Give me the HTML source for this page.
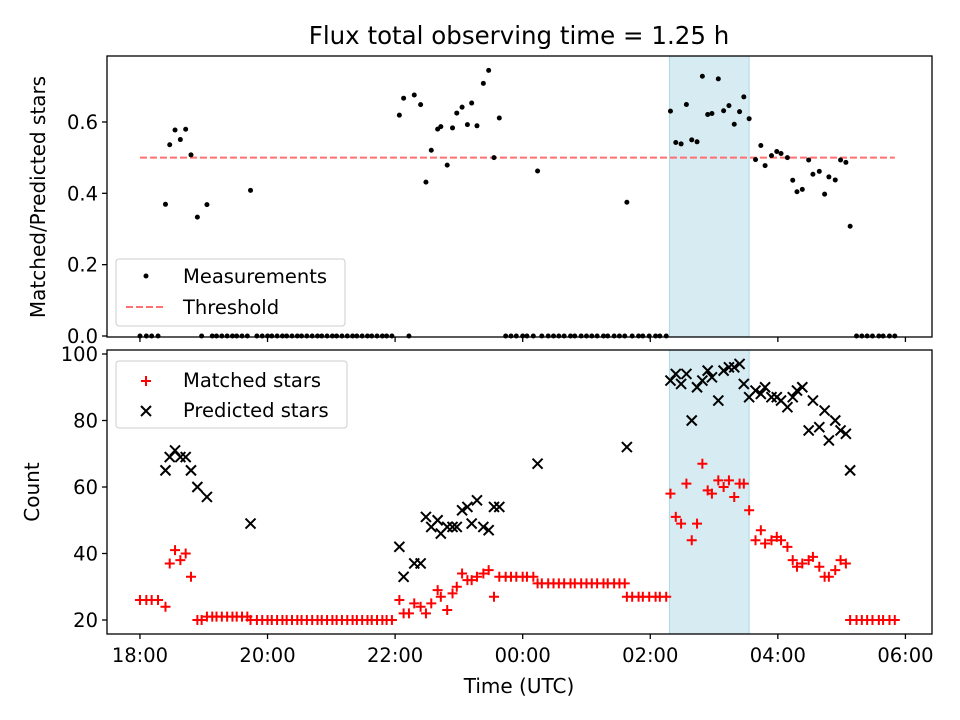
<!DOCTYPE html>
<html><head><meta charset="utf-8"><style>
body{margin:0;background:#fff;}
svg{display:block;font-family:"DejaVu Sans","Liberation Sans",sans-serif;}
</style></head><body>
<svg id="chart" width="960" height="720" viewBox="0 0 960 720" xmlns="http://www.w3.org/2000/svg">
<rect width="960" height="720" fill="#fff"/>
<text x="519" y="44" font-size="24.5" text-anchor="middle">Flux total observing time = 1.25 h</text>
<g id="topPanel"></g>
<g id="botPanel"></g>
<text x="519" y="693" font-size="20" text-anchor="middle">Time (UTC)</text>
<text transform="translate(45,197) rotate(-90)" font-size="20" text-anchor="middle">Matched/Predicted stars</text>
<text transform="translate(39,492) rotate(-90)" font-size="20" text-anchor="middle">Count</text>
</svg>
<script>
// minutes since 18:00 UTC
const times=[
0,6,11,17,24,28,33,38,43,48,
54,58,63,68,72,77,82,87,91,96,
101,104,110,115,120,124,129,134,138,143,
148,152,157,162,167,171,176,181,185,190,
195,200,204,209,214,218,223,228,232,237,
244,248,253,258,264,269,274,280,283,289,
294,298,303,308,312,317,323,328,333,338,
344,349,354,360,364,370,374,378,384,389,
394,399,405,409,415,420,425,430,436,440,
446,451,456,458,463,469,473,479,485,489,
495,499,504,509,514,519,524,529,534,538,
544,549,554,559,564,568,573,579,584,588,
594,599,603,609,614,618,623,629,633,639,
644,648,654,659,664,668,674,679,684,689,
695,699,705,710];
const matched=[
26,26,26,26,24,37,41,38,40,33,
20,20,21,21,21,21,21,21,21,21,
21,20,20,20,20,20,20,20,20,20,
20,20,20,20,20,20,20,20,20,20,
20,20,20,20,20,20,20,20,20,20,
26,22,22,25,24,22,25,29,27,23,
28,30,34,32,32,33,34,35,27,33,
33,33,33,33,33,33,31,31,31,31,
31,31,31,31,31,31,31,31,31,31,
31,31,31,27,27,27,27,27,27,27,
27,58,51,49,61,44,49,67,59,58,
62,60,62,57,61,61,53,44,47,43,
44,45,44,42,38,36,37,38,39,36,
33,33,35,38,37,20,20,20,20,20,
20,20,20,20];
const predicted=[
null,null,null,null,65,69,71,69,69,65,
60,null,57,null,null,null,null,null,null,null,
null,49,null,null,null,null,null,null,null,null,
null,null,null,null,null,null,null,null,null,null,
null,null,null,null,null,null,null,null,null,null,
42,33,null,37,37,51,48,50,46,48,
48,48,53,54,49,56,48,47,54,54,
null,null,null,null,null,null,67,null,null,null,
null,null,null,null,null,null,null,null,null,null,
null,null,null,72,null,null,null,null,null,null,
null,92,94,91,94,80,90,92,95,93,
86,95,96,96,97,91,87,89,88,90,
87,87,86,84,87,89,90,77,86,78,
83,74,80,77,76,65,null,null,null,null,
null,null,null,null];
const threshold=0.5;
const thresholdSpan=[0,710];
const highlightSpan=[498,573];
const xTicks=[0,120,240,360,480,600,720];
const xTickLabels=["18:00","20:00","22:00","00:00","02:00","04:00","06:00"];
const topYTicks=[0,0.2,0.4,0.6];
const topYTickLabels=["0.0","0.2","0.4","0.6"];
const botYTicks=[20,40,60,80,100];
const botYTickLabels=["20","40","60","80","100"];

const NS="http://www.w3.org/2000/svg";
function mk(parent,tag,attrs){const e=document.createElementNS(NS,tag);for(const k in attrs)e.setAttribute(k,attrs[k]);parent.appendChild(e);return e;}
const L=107,R=932;
const X=m=>L+(m-(-31))*(R-L)/(745-(-31));
const topP={t:56,b:337}, botP={t:350,b:634};
const Yt=v=>336-v*356.7;
const Yb=v=>620-(v-20)*3.325;
const TF=19.5;

function panel(g,P,yfn,yt,ytl,showXLabels,prefix){
  const hl=mk(g,'rect',{x:X(highlightSpan[0]),y:P.t,width:X(highlightSpan[1])-X(highlightSpan[0]),height:P.b-P.t,fill:'#add8e6','fill-opacity':0.5,stroke:'#add8e6'});
  
  
  xTicks.forEach((t,i)=>{
    const l=mk(g,'line',{x1:X(t),x2:X(t),y1:P.b,y2:P.b+5,stroke:'#000','stroke-width':1.3});
    
    
    if(showXLabels){const tx=mk(g,'text',{x:X(t),y:P.b+28,'font-size':TF,'text-anchor':'middle'});tx.textContent=xTickLabels[i];
      
      }
  });
  yt.forEach((t,i)=>{
    const l=mk(g,'line',{x1:L-5,x2:L,y1:yfn(t),y2:yfn(t),stroke:'#000','stroke-width':1.3});
    
    
    const tx=mk(g,'text',{x:L-9,y:yfn(t)+7,'font-size':TF,'text-anchor':'end'});tx.textContent=ytl[i];
    
    
  });
}
function frame(g,P,prefix){
  const f=mk(g,'rect',{x:L,y:P.t,width:R-L,height:P.b-P.t,fill:'none',stroke:'#000','stroke-width':1.3});
  
  
}
function plus(g,x,y,s,c){mk(g,'path',{d:`M${x-s},${y}H${x+s}M${x},${y-s}V${y+s}`,stroke:c,'stroke-width':2,fill:'none'});}
function cross(g,x,y,s,c){mk(g,'path',{d:`M${x-s},${y-s}L${x+s},${y+s}M${x-s},${y+s}L${x+s},${y-s}`,stroke:c,'stroke-width':2,fill:'none'});}

const n=Math.min(times.length,matched.length,predicted.length);

// top panel
const topG=document.getElementById('topPanel');
panel(topG,topP,Yt,topYTicks,topYTickLabels,false,'top');
const th=mk(topG,'line',{x1:X(thresholdSpan[0]),x2:X(thresholdSpan[1]),y1:Yt(threshold),y2:Yt(threshold),stroke:'#ff7070','stroke-width':2,'stroke-dasharray':'7,3'});


for(let i=0;i<n;i++){
  const r=predicted[i]?matched[i]/predicted[i]:0;
  const c=mk(topG,'circle',{cx:X(times[i]),cy:Yt(r),r:2.5,fill:'#000'});
  
  
}
frame(topG,topP,'top');
const lg1=mk(topG,'g',{});


mk(lg1,'rect',{x:116,y:259,width:229,height:67,rx:3,fill:'#fff','fill-opacity':0.8,stroke:'#ccc'});
mk(lg1,'circle',{cx:146,cy:276,r:2.5,fill:'#000'});
mk(lg1,'line',{x1:126,x2:166,y1:307,y2:307,stroke:'#ff7070','stroke-width':2,'stroke-dasharray':'7,3'});
let t1=mk(lg1,'text',{x:183,y:283,'font-size':TF});t1.textContent='Measurements';
let t2=mk(lg1,'text',{x:183,y:314,'font-size':TF});t2.textContent='Threshold';

// bottom panel
const botG=document.getElementById('botPanel');
panel(botG,botP,Yb,botYTicks,botYTickLabels,true,'bottom');
for(let i=0;i<n;i++){
  const g=mk(botG,'g',{});
  
  
  plus(g,X(times[i]),Yb(matched[i]),5,'#ff0000');
}
for(let i=0;i<n;i++){
  if(predicted[i]==null)continue;
  const g=mk(botG,'g',{});
  
  
  cross(g,X(times[i]),Yb(predicted[i]),5,'#000');
}
frame(botG,botP,'bottom');
const lg2=mk(botG,'g',{});


mk(lg2,'rect',{x:116,y:361,width:231,height:67,rx:3,fill:'#fff','fill-opacity':0.8,stroke:'#ccc'});
plus(lg2,146,381,5,'#ff0000');
cross(lg2,146,411,5,'#000');
let t3=mk(lg2,'text',{x:183,y:387,'font-size':TF});t3.textContent='Matched stars';
let t4=mk(lg2,'text',{x:183,y:417,'font-size':TF});t4.textContent='Predicted stars';
</script>
</body></html>
